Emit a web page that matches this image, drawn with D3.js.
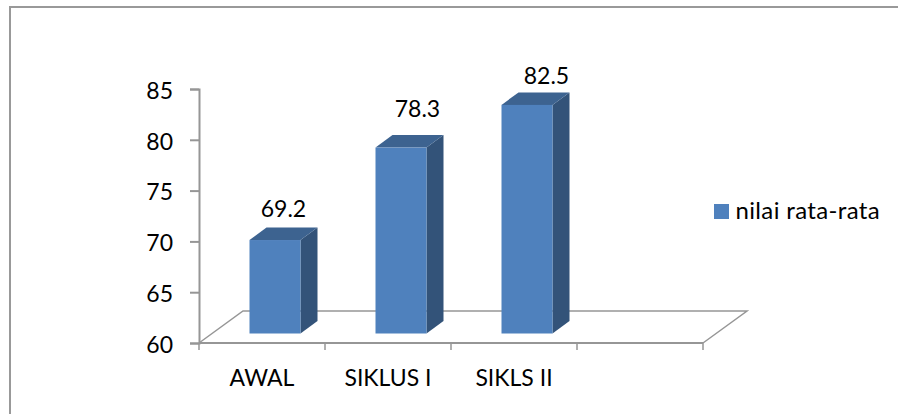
<!DOCTYPE html>
<html lang="en">
<head>
    <meta charset="UTF-8">
    <title>Nilai rata-rata</title>
    <script src="https://d3js.org/d3.v7.min.js"></script>
    <style>
        html, body { margin: 0; padding: 0; background: #fff; }
        svg { display: block; }
        text { font-family: Lato, "Open Sans", sans-serif; fill: #000; }
    </style>
</head>
<body>
    <svg id="chart" width="898" height="414"></svg>
    <script>
        // values
        const categories = ['AWAL', 'SIKLUS I', 'SIKLS II', ''];
        const values = [69.2, 78.3, 82.5];
        const yTicks = [60, 65, 70, 75, 80, 85];
        const seriesName = 'nilai rata-rata';

        const svg = d3.select('#chart');
        const gridColor = '#969696';
        const fontSize = 23;

        // outer frame, only top and left edges are in the picture
        svg.append('path')
            .attr('d', 'M10,414V7H898')
            .attr('fill', 'none')
            .attr('stroke', '#999')
            .attr('stroke-width', 2);

        const xScale = d3.scaleBand().domain(categories).range([199, 703]);
        const yScale = d3.scaleLinear().domain([60, 85]).range([343, 89]);

        // fake 3d offsets
        const depth = { x: 44, y: -32 };
        const barShift = { x: 13, y: -9.5 };
        const side = { x: 17, y: -12.5 };
        const barWidth = 51;

        // floor
        const floor = d3.path();
        floor.moveTo(xScale.range()[0], yScale(60));
        floor.lineTo(xScale.range()[0] + depth.x, yScale(60) + depth.y);
        floor.lineTo(xScale.range()[1] + depth.x, yScale(60) + depth.y);
        floor.lineTo(xScale.range()[1], yScale(60));
        svg.append('path')
            .attr('d', floor.toString())
            .attr('fill', 'none')
            .attr('stroke', gridColor)
            .attr('stroke-width', 1.5);

        // y axis
        svg.append('g')
            .attr('transform', 'translate(199,0)')
            .call(d3.axisLeft(yScale).tickValues(yTicks).tickSize(9).tickPadding(17))
            .call(g => g.selectAll('path,line').attr('stroke', gridColor).attr('stroke-width', 2))
            .call(g => g.selectAll('text').attr('font-size', fontSize).attr('font-family', 'Lato').attr('dy', '0.4em'));

        // x axis, ticks sit on band edges
        const xAxisG = svg.append('g').attr('transform', 'translate(0,343)');
        xAxisG.append('line')
            .attr('x1', xScale.range()[0]).attr('x2', xScale.range()[1])
            .attr('stroke', gridColor).attr('stroke-width', 2);
        xAxisG.selectAll('.edge')
            .data(categories.concat('end'))
            .enter().append('line')
            .attr('class', 'edge')
            .attr('x1', (d, i) => xScale.range()[0] + i * xScale.step())
            .attr('x2', (d, i) => xScale.range()[0] + i * xScale.step())
            .attr('y2', 7)
            .attr('stroke', gridColor).attr('stroke-width', 1.5);
        xAxisG.selectAll('.label')
            .data(categories)
            .enter().append('text')
            .attr('class', 'label')
            .attr('x', d => xScale(d) + xScale.bandwidth() / 2)
            .attr('y', 43)
            .attr('text-anchor', 'middle')
            .attr('font-size', fontSize)
            .text(d => d);

        // bars
        const bars = svg.selectAll('.bar3d')
            .data(values)
            .enter().append('g')
            .attr('class', 'bar3d');

        const frontX = (d, i) => xScale(categories[i]) + xScale.bandwidth() / 2 + barShift.x - barWidth / 2;
        const baseY = yScale(60) + barShift.y;
        const topY = d => yScale(d) + barShift.y;

        // right side
        bars.append('polygon')
            .attr('fill', '#335379')
            .attr('points', (d, i) => {
                const x = frontX(d, i) + barWidth;
                return [[x, topY(d)], [x + side.x, topY(d) + side.y], [x + side.x, baseY + side.y], [x, baseY]].join(' ');
            });
        // top
        bars.append('polygon')
            .attr('fill', '#3d6390')
            .attr('points', (d, i) => {
                const x = frontX(d, i);
                return [[x, topY(d)], [x + side.x, topY(d) + side.y], [x + barWidth + side.x, topY(d) + side.y], [x + barWidth, topY(d)]].join(' ');
            });
        // front
        bars.append('rect')
            .attr('x', frontX)
            .attr('y', topY)
            .attr('width', barWidth)
            .attr('height', d => baseY - topY(d))
            .attr('fill', '#4f81bd');

        // value labels were hand placed in the original, so each has its own nudge
        const labelDx = [0, 8, 11];
        const labelDy = [23, 31, 21];
        bars.append('text')
            .attr('x', (d, i) => frontX(d, i) + barWidth / 2 + side.x / 2 + labelDx[i])
            .attr('y', (d, i) => topY(d) - labelDy[i])
            .attr('text-anchor', 'middle')
            .attr('font-size', fontSize)
            .text(d => d);

        // legend
        svg.append('rect')
            .attr('x', 714).attr('y', 204)
            .attr('width', 15).attr('height', 15)
            .attr('fill', '#4f81bd');
        svg.append('text')
            .attr('x', 735.5).attr('y', 219)
            .attr('font-size', 24)
            .attr('letter-spacing', 0.35)
            .text(seriesName);
    </script>
</body>
</html>
